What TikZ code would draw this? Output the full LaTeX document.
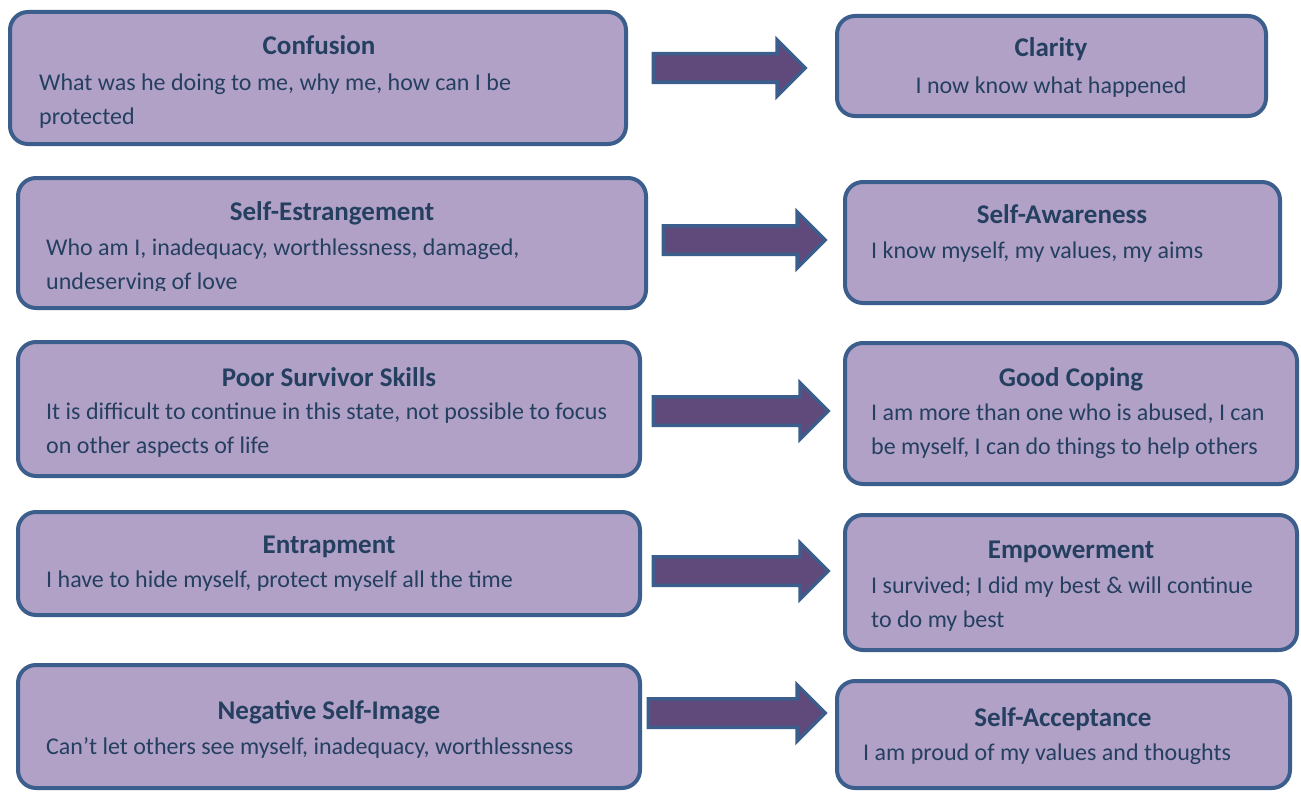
\documentclass[tikz,border=0pt]{standalone}
\usepackage{fontspec}
\setmainfont{Carlito}
\usetikzlibrary{shapes.arrows}
\definecolor{boxfill}{HTML}{B2A1C7}
\definecolor{boxline}{HTML}{3B5E8C}
\definecolor{boxtext}{HTML}{243F60}
\definecolor{arrfill}{HTML}{604A7B}

\begin{document}
\begin{tikzpicture}[x=1pt,y=-1pt]
\tikzstyle{box} = [rectangle, draw=boxline, line width=4pt, fill=boxfill,
rounded corners=18pt, inner sep=0pt]
\tikzstyle{title} = [anchor=base, inner sep=0pt, text=boxtext,
font=\fontsize{27}{32}\selectfont\bfseries]
\tikzstyle{body} = [anchor=north west, inner sep=0pt, text=boxtext, align=left,
font=\fontsize{24}{34}\selectfont]
\tikzstyle{bigarrow} = [single arrow, draw=boxline, line width=3.5pt, fill=arrfill,
anchor=tail, inner xsep=0pt, inner ysep=12.5pt, single arrow head extend=14pt]
\useasboundingbox (0,0) rectangle (1301,792);

% left column
\node [box, minimum width=616pt, minimum height=132pt] (confusion) at (318,78) {};
\node [box, minimum width=628pt, minimum height=130pt] (estrange) at (332,243) {};
\node [box, minimum width=622pt, minimum height=134pt] (survivor) at (329,409) {};
\node [box, minimum width=622pt, minimum height=103pt] (entrap) at (329,563.5) {};
\node [box, minimum width=622pt, minimum height=123pt] (negative) at (329,726.5) {};

% right column
\node [box, minimum width=429pt, minimum height=100pt] (clarity) at (1051.5,66) {};
\node [box, minimum width=435pt, minimum height=121pt] (aware) at (1062.5,242.5) {};
\node [box, minimum width=452pt, minimum height=141pt] (coping) at (1071,413.5) {};
\node [box, minimum width=452pt, minimum height=135pt] (empower) at (1071,582.5) {};
\node [box, minimum width=453pt, minimum height=107pt] (accept) at (1063.5,734.5) {};

% titles and texts, left
\node [title] (confusion-t) at (319,55) {Confusion};
\node [body] (confusion-b) at (39,74) {What was he doing to me, why me, how can I be\\protected};
\node [title] (estrange-t) at (332,220) {Self-Estrangement};
\begin{scope}
\clip (16,176) rectangle (648,290);
\node [body] (estrange-b) at (46,239) {Who am I, inadequacy, worthlessness, damaged,\\undeserving of love};
\end{scope}
\node [title] (survivor-t) at (329,386) {Poor Survivor Skills};
\node [body] (survivor-b) at (46,403) {It is difficult to continue in this state, not possible to focus\\on other aspects of life};
\node [title] (entrap-t) at (329,553) {Entrapment};
\node [body] (entrap-b) at (46,571) {I have to hide myself, protect myself all the time};
\node [title] (negative-t) at (329,719) {Negative Self-Image};
\node [body] (negative-b) at (46,737) {Can’t let others see myself, inadequacy, worthlessness};

% titles and texts, right
\node [title] (clarity-t) at (1051,57) {Clarity};
\node [title, font=\fontsize{24}{34}\selectfont] (clarity-b) at (1051,93) {I now know what happened};
\node [title] (aware-t) at (1062,223) {Self-Awareness};
\node [body] (aware-b) at (871,242) {I know myself, my values, my aims};
\node [title] (coping-t) at (1071,386) {Good Coping};
\node [body] (coping-b) at (871,404) {I am more than one who is abused, I can\\be myself, I can do things to help others};
\node [title] (empower-t) at (1071,558) {Empowerment};
\node [body] (empower-b) at (871,577) {I survived; I did my best \& will continue\\to do my best};
\node [title] (accept-t) at (1063,726) {Self-Acceptance};
\node [body] (accept-b) at (863,744) {I am proud of my values and thoughts};

% arrows
\node [bigarrow, minimum height=152pt] (arr1) at (651.5,68) {};
\node [bigarrow, minimum height=162pt] (arr2) at (661.5,240) {};
\node [bigarrow, minimum height=175pt] (arr3) at (651.5,411) {};
\node [bigarrow, minimum height=175pt] (arr4) at (651.5,571) {};
\node [bigarrow, minimum height=177pt] (arr5) at (646.5,713) {};

\end{tikzpicture}
\end{document}
